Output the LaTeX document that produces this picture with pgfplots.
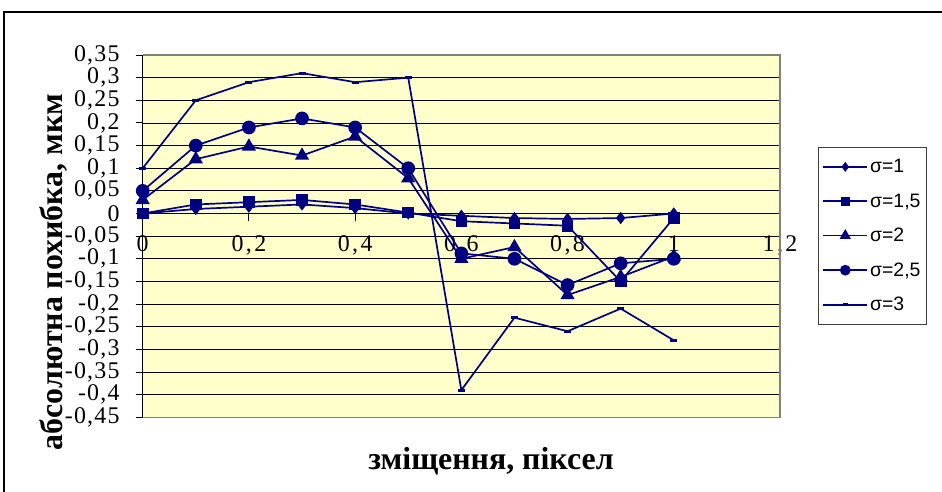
\documentclass[border=0pt]{standalone}
\usepackage{fontspec}
\setmainfont{Liberation Serif}
\newfontfamily\legfont{Liberation Sans}
\newfontfamily\ytickfont[LetterSpace=5]{Liberation Serif}
\newfontfamily\xtickfont[LetterSpace=10]{Liberation Serif}
\usepackage{pgfplots}
\pgfplotsset{compat=1.18}
\definecolor{navy}{RGB}{0,0,128}
\definecolor{plotbg}{RGB}{255,255,204}

\begin{document}
\begin{tikzpicture}
\path[use as bounding box] (0,0) rectangle (942bp,-492bp);
% chart frame
\draw[line width=1.2bp] (4bp,-492bp) -- (4bp,-12bp) -- (942bp,-12bp);

\begin{axis}[
  at={(142.7bp,-417.3bp)}, anchor=south west,
  scale only axis, width=637.3bp, height=362.3bp,
  xmin=0, xmax=1.2, ymin=-0.45, ymax=0.35,
  clip=false,
  axis x line*=middle, axis y line*=left,
  hide obscured x ticks=false, hide obscured y ticks=false,
  axis line style={black, line width=1bp, -},
  axis background/.style={fill=plotbg},
  xtick={0,0.2,0.4,0.6,0.8,1,1.2},
  xticklabels={0,{0,2},{0,4},{0,6},{0,8},1,{1,2}},
  ytick={-0.45,-0.4,-0.35,-0.3,-0.25,-0.2,-0.15,-0.1,-0.05,0,0.05,0.1,0.15,0.2,0.25,0.3,0.35},
  yticklabels={{-0,45},{-0,4},{-0,35},{-0,3},{-0,25},{-0,2},{-0,15},{-0,1},{-0,05},0,
    {0,05},{0,1},{0,15},{0,2},{0,25},{0,3},{0,35}},
  tick align=outside, major tick length=7bp,
  tick style={black, line width=1bp},
  ymajorgrids, grid style={black, line width=0.8bp},
  yticklabel style={font=\ytickfont\fontsize{24}{24}\selectfont, inner sep=0bp, xshift=-16bp},
  xticklabel style={font=\xtickfont\fontsize{24}{24}\selectfont, inner sep=0bp, yshift=-15bp},
  every axis plot/.append style={navy, line width=1.7bp},
  legend style={at={(1.0597,0.746)}, anchor=north west,
    draw=black!75, line width=0.8bp, fill=white,
    font=\legfont\fontsize{19.5}{22}\selectfont,
    inner xsep=4bp, inner ysep=10bp, row sep=15.5bp,
    cells={anchor=west}},
  legend image code/.code={\draw[mark repeat=2,mark phase=2,#1,
      every mark/.append style={scale=0.75}]
    plot coordinates {(0bp,0bp) (22bp,0bp) (44bp,0bp)};},
]
\addplot[mark=diamond*, mark size=4.8bp] coordinates {
  (0,0) (0.1,0.01) (0.2,0.015) (0.3,0.02) (0.4,0.012) (0.5,0)
  (0.6,-0.005) (0.7,-0.01) (0.8,-0.012) (0.9,-0.01) (1,0)};
\addlegendentry{σ=1}
\addplot[mark=square*, mark size=5bp] coordinates {
  (0,0) (0.1,0.02) (0.2,0.025) (0.3,0.03) (0.4,0.02) (0.5,0.002)
  (0.6,-0.017) (0.7,-0.022) (0.8,-0.027) (0.9,-0.15) (1,-0.01)};
\addlegendentry{σ=1,5}
\addplot[mark=triangle*, mark size=6.5bp] coordinates {
  (0,0.03) (0.1,0.12) (0.2,0.148) (0.3,0.128) (0.4,0.17) (0.5,0.078)
  (0.6,-0.10) (0.7,-0.074) (0.8,-0.18) (0.9,-0.14) (1,-0.095)};
\addlegendentry{σ=2}
\addplot[mark=*, mark size=6bp] coordinates {
  (0,0.05) (0.1,0.15) (0.2,0.19) (0.3,0.21) (0.4,0.19) (0.5,0.10)
  (0.6,-0.088) (0.7,-0.10) (0.8,-0.158) (0.9,-0.11) (1,-0.10)};
\addlegendentry{σ=2,5}
\addplot[mark=-, mark size=3.5bp, mark options={line width=3bp}] coordinates {
  (0,0.10) (0.1,0.25) (0.2,0.29) (0.3,0.31) (0.4,0.29) (0.5,0.30)
  (0.6,-0.39) (0.7,-0.23) (0.8,-0.26) (0.9,-0.21) (1,-0.28)};
\addlegendentry{σ=3}
% plot area border
\draw[gray, line width=1.5bp] (rel axis cs:0,0) -- (rel axis cs:1,0)
  -- (rel axis cs:1,1) -- (rel axis cs:0,1);
\end{axis}

\node[rotate=90, font=\bfseries\fontsize{32}{32}\selectfont]
  at (54bp,-272bp) {абсолютна похибка, мкм};
\node[font=\bfseries\fontsize{32}{32}\selectfont]
  at (491bp,-461bp) {зміщення, піксел};
\end{tikzpicture}
\end{document}
